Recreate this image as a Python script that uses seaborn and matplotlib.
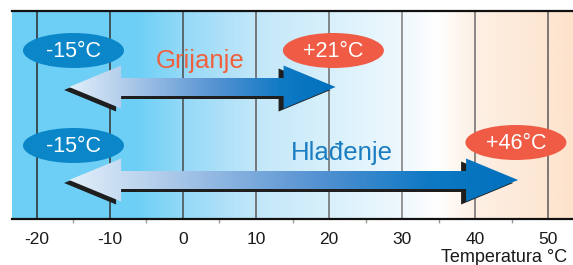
import numpy as np
import matplotlib
matplotlib.use('Agg')
import matplotlib.pyplot as plt
import seaborn as sns
from matplotlib.colors import LinearSegmentedColormap
from matplotlib.patches import Polygon, Ellipse

# data
ticks = [-20, -10, 0, 10, 20, 30, 40, 50]
modes = ['Grijanje', 'Hlađenje']
range_low = [-15, -15]
range_high = [21, 46]
low_labels = ['-15°C', '-15°C']
high_labels = ['+21°C', '+46°C']
axis_label = 'Temperatura °C'

sns.set_theme(style='white')
plt.rcParams['font.family'] = ['Liberation Sans', 'DejaVu Sans']

W, H = 573, 265
fig = plt.figure(figsize=(W / 100, H / 100), dpi=100)
# axes in pixel geometry: x 12..573, y 11..219
ax = fig.add_axes([12 / W, (H - 219) / H, (W - 12) / W, (219 - 11) / H])
xlo, xhi = -23.42, 53.42
ytop, ybot = 11, 219
px = (W - 12) / (xhi - xlo)  # pixels per degree

# background gradient
bg_stops = [(-23.42, '#6dcff6'), (-6, '#6fd0f6'), (0, '#95d9f7'),
            (10, '#c2e7f9'), (20, '#d8f0fb'), (30, '#eef8fd'),
            (35, '#ffffff'), (40, '#fdf0e5'), (53.42, '#fde3cc')]
bg_cmap = LinearSegmentedColormap.from_list(
    'bg', [((v - xlo) / (xhi - xlo), c) for v, c in bg_stops])
ax.imshow(np.linspace(0, 1, 600)[None, :], cmap=bg_cmap, aspect='auto',
          extent=(xlo, xhi, ybot, ytop), zorder=0, interpolation='bilinear')

# grid lines
grid_cols = ['#2a2a2a', '#333333', '#4a4a4a', '#5a5a5a', '#6a6a6a', '#7a7a7a', '#6a6a6a', '#5a5a5a']
ax.vlines(ticks, ytop, ybot, colors=grid_cols, lw=1.1, zorder=1)

arrow_cmap = LinearSegmentedColormap.from_list(
    'arr', [(0, '#e2effa'), (0.2, '#b2cdeb'), (0.55, '#5592d2'),
            (0.8, '#0f79c4'), (1, '#0070bc')])


def arrow_poly(x0, x1, yc, sh, hh, hl, dx=0.0, dy=0.0):
    hl_d = hl / px
    pts = [(x0, yc), (x0 + hl_d, yc - hh), (x0 + hl_d, yc - sh),
           (x1 - hl_d, yc - sh), (x1 - hl_d, yc - hh), (x1, yc),
           (x1 - hl_d, yc + hh), (x1 - hl_d, yc + sh),
           (x0 + hl_d, yc + sh), (x0 + hl_d, yc + hh)]
    return [(x + dx, y + dy) for x, y in pts]


arrow_y = [87, 180]
for i in range(2):
    x0, x1, yc = range_low[i] - 0.6, range_high[i] - 0.1, arrow_y[i]
    shadow = Polygon(arrow_poly(x0, x1, yc, 9, 21.5, 52, -5 / px, 3),
                     closed=True, facecolor='#1e1e1e', edgecolor='none', zorder=2)
    ax.add_patch(shadow)
    body = Polygon(arrow_poly(x0, x1, yc, 9, 21.5, 52), closed=True,
                   facecolor='none', edgecolor='none', zorder=3)
    ax.add_patch(body)
    im = ax.imshow(np.linspace(0, 1, 300)[None, :], cmap=arrow_cmap, aspect='auto',
                   extent=(x0, x1, yc + 25, yc - 25), zorder=3, interpolation='bilinear')
    im.set_clip_path(body)

# ellipse labels
ell_y_low = [50.5, 145.5]
ell_y_high = [50.5, 142.5]
for i in range(2):
    for xv, yv, lab, col in [(range_low[i], ell_y_low[i], low_labels[i], '#0b87c9'),
                             (range_high[i] - 0.4, ell_y_high[i], high_labels[i], '#f05b45')]:
        ax.add_patch(Ellipse((xv, yv), 101 / px, 35, facecolor=col, edgecolor='none', zorder=4))
        ax.text(xv, yv + 1, lab, color='white', fontsize=15.5, ha='center', va='center', zorder=5)

# mode titles
ax.text(2.3, 61, modes[0], color='#f0603c', fontsize=18.5, ha='center', va='center', zorder=5)
ax.text(21.8, 153, modes[1], color='#1b7dc1', fontsize=18.5, ha='center', va='center', zorder=5)

ax.set_xlim(xlo, xhi)
ax.set_ylim(ybot, ytop)
ax.set_xticks(ticks)
ax.set_xticklabels([str(t) for t in ticks])
ax.set_xticks([t + 5 for t in ticks[:-1]], minor=True)
ax.tick_params(axis='x', which='major', length=0, pad=9, labelsize=12.5, labelcolor='#1a1a1a')
ax.tick_params(axis='x', which='minor', length=3, width=1, color='#9a9a9a', bottom=True)
ax.set_yticks([])
for s in ['left', 'right']:
    ax.spines[s].set_visible(False)
for s in ['top', 'bottom']:
    ax.spines[s].set_color('#111111')
    ax.spines[s].set_linewidth(1.6)
    ax.spines[s].set_zorder(6)

fig.text(567 / W, 1 - 258 / H, axis_label, ha='right', va='center', fontsize=13, color='#1a1a1a')

fig.savefig('out.png', dpi=100)
